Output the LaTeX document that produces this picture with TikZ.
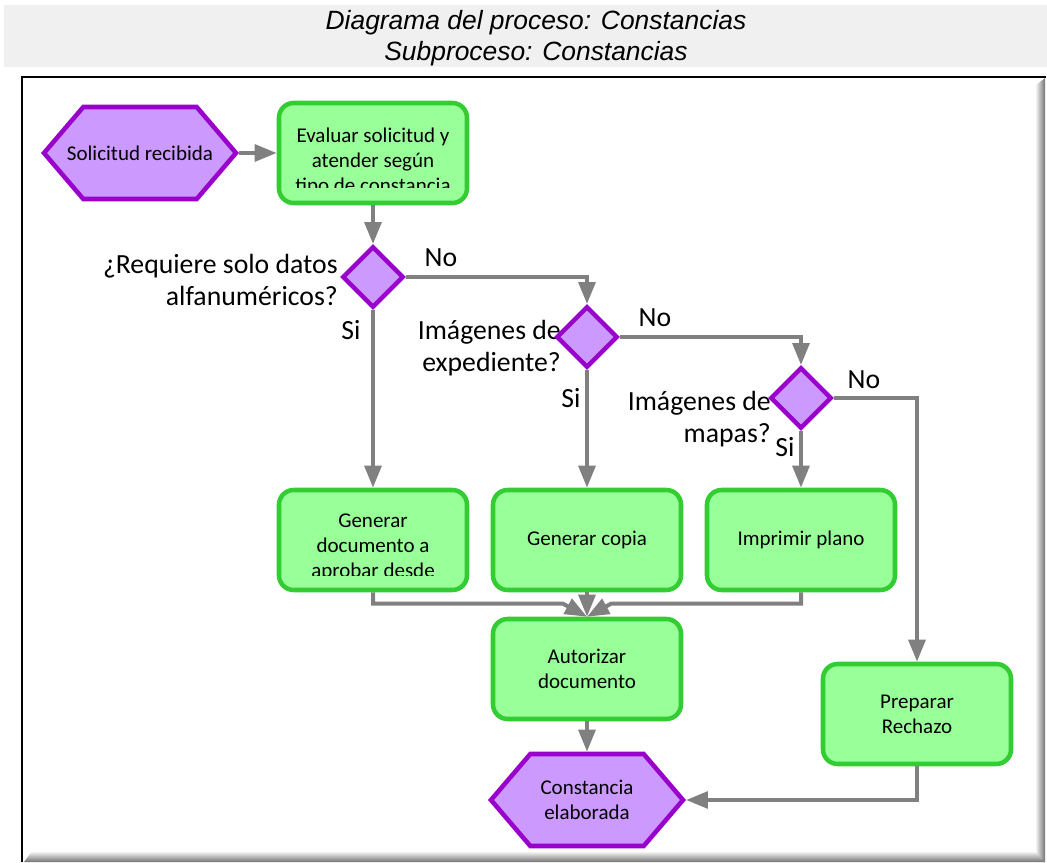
\documentclass[tikz,border=0pt]{standalone}
\usepackage{fontspec}
\setmainfont{Carlito}
\newfontfamily\titlefont{Liberation Sans}
\usetikzlibrary{arrows.meta,shapes.geometric,shapes.symbols,calc}

\definecolor{procfill}{HTML}{99FF99}
\definecolor{procline}{HTML}{33CC33}
\definecolor{evfill}{HTML}{CC99FF}
\definecolor{evline}{HTML}{9900CC}
\definecolor{linkgray}{HTML}{808080}
\definecolor{bandgray}{HTML}{F0F0F0}

\tikzset{
  boxfont/.style={font=\fontsize{15.75}{18.75}\selectfont},
  labfont/.style={font=\fontsize{20.8}{23.5}\selectfont},
  proc/.style={draw=procline, fill=procfill, line width=3.4pt,
    rounded corners=11pt, minimum width=141pt, minimum height=75pt,
    inner sep=0pt, align=center, boxfont},
  boxtext/.style={inner sep=0pt, align=center, boxfont},
  hexa/.style={signal, signal to=east and west, signal pointer angle=99,
    draw=evline, fill=evfill, line width=3.4pt,
    minimum width=144pt, minimum height=69pt,
    inner sep=0pt, align=center, boxfont},
  decide/.style={diamond, draw=evline, fill=evfill, line width=3.4pt,
    minimum size=46pt, inner sep=0pt},
  qlabel/.style={inner sep=0pt, align=right, anchor=east, labfont},
  tag/.style={inner sep=0pt, labfont},
  link/.style={draw=linkgray, line width=3pt,
    -{Triangle[length=16.5pt,width=12.5pt]}},
}

\begin{document}
\begin{tikzpicture}[x=0.75pt,y=-0.75pt]
\useasboundingbox (0,0) rectangle (1047,863);

% title band
\fill[bandgray] (4,5) rectangle (1047,67);
\node[font=\titlefont\itshape\fontsize{19.8}{23}\selectfont, anchor=base, inner sep=0pt]
  (title1) at (536,30) {Diagrama del proceso: Constancias};
\node[font=\titlefont\itshape\fontsize{19.8}{23}\selectfont, anchor=base, inner sep=0pt]
  (title2) at (536,61) {Subproceso: Constancias};

% frame with shadow on the right and bottom
\shade[left color=white, right color=black!55] (1035,86) -- (1045,78) -- (1045,862) -- (1035,862) -- cycle;
\shade[top color=white, bottom color=black!55] (32,851) -- (1035,851) -- (1045,862) -- (24,862) -- cycle;
\draw[black, line width=2.2pt] (22,862) -- (22,77) -- (1046,77);

% question labels (set behind the diamonds)
\node[qlabel] (q1) at (338,280) {¿Requiere solo datos\\alfanuméricos?};
\node[qlabel] (q2) at (561,348) {Imágenes de\\expediente?};
\node[qlabel] (q3) at (771,419) {Imágenes de\\mapas?};

% nodes
\node[hexa] (sol) at (140,153) {\makebox[0pt]{Solicitud recibida}};
\node[proc] (eval) at (373,153) {};
\node[decide] (d1) at (373,277) {};
\node[decide] (d2) at (587,337) {};
\node[decide] (d3) at (801,398) {};
\node[proc] (gdoc) at (373,540) {};
\node[proc] (gcop) at (587,540) {Generar copia};
\node[proc] (impr) at (801,540) {Imprimir plano};
\node[proc] (aut) at (587,669) {Autorizar\\documento};
\node[proc] (rech) at (917,714) {Preparar\\Rechazo};
\node[hexa] (cons) at (587,800) {Constancia\\elaborada};

% texts that overflow their boxes
\begin{scope}
  \clip (eval.north west) rectangle ([yshift=13.5pt]eval.south east);
  \node[boxtext] (evaltxt) at ([yshift=-6.75pt]eval.center)
    {Evaluar solicitud y\\atender según\\tipo de constancia};
\end{scope}
\begin{scope}
  \clip (gdoc.north west) rectangle ([yshift=12.75pt]gdoc.south east);
  \node[boxtext] (gdoctxt) at ([yshift=-5.25pt]gdoc.center)
    {Generar\\documento a\\aprobar desde};
\end{scope}

% branch tags
\node[tag] (no1) at (441,258) {No};
\node[tag] (no2) at (655,318) {No};
\node[tag] (no3) at (864,380) {No};
\node[tag] (si1) at (351,330) {Si};
\node[tag] (si2) at (571,398) {Si};
\node[tag] (si3) at (785,447) {Si};

% connectors
\draw[link] (sol.east) -- (eval.west);
\draw[link] (eval.south) -- (d1.north);
\draw[link] (d1.east) -| (d2.north);
\draw[link] (d2.east) -| (d3.north);
\draw[link] (d3.east) -| (rech.north);
\draw[link] (d1.south) -- (gdoc.north);
\draw[link] (d2.south) -- (gcop.north);
\draw[link] (d3.south) -- (impr.north);
\draw[link] (gdoc.south) |- ($(aut.north)+(-24,-13)$) -- (aut.north);
\draw[link] (gcop.south) -- (aut.north);
\draw[link] (impr.south) |- ($(aut.north)+(24,-13)$) -- (aut.north);
\draw[link] (aut.south) -- (cons.north);
\draw[link] (rech.south) |- (cons.east);
\end{tikzpicture}
\end{document}
